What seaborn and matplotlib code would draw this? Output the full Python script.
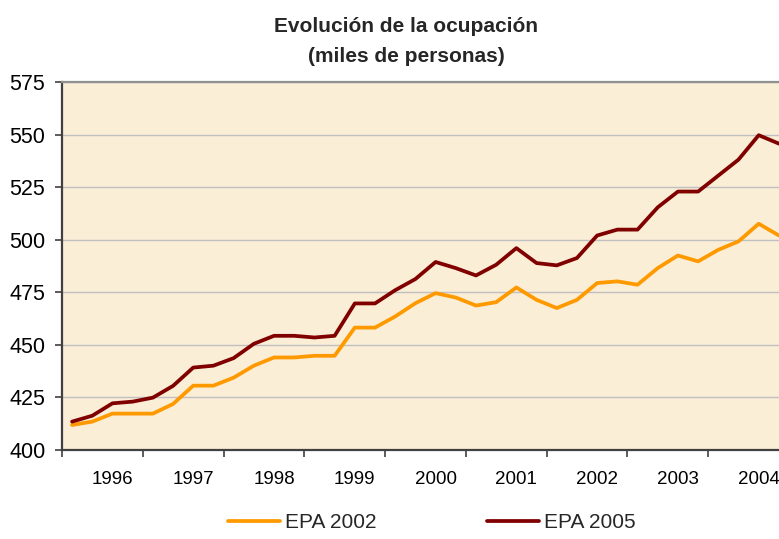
import matplotlib
matplotlib.use("Agg")
import matplotlib.pyplot as plt
import seaborn as sns
import pandas as pd
import numpy as np

# Quarterly employment (thousands of people), 1996 Q1 – 2004 Q4
years = ["1996", "1997", "1998", "1999", "2000", "2001", "2002", "2003", "2004"]
quarters = [f"{y} T{q}" for y in years for q in range(1, 5)]

epa_2002 = [411.9, 413.5, 417.3, 417.3, 417.3, 421.9, 430.6, 430.6,
            434.4, 440.1, 444.0, 444.0, 444.8, 444.8, 458.2, 458.2,
            463.5, 469.8, 474.6, 472.5, 468.7, 470.3, 477.3, 471.4,
            467.5, 471.4, 479.4, 480.2, 478.6, 486.5, 492.5, 489.7,
            495.2, 499.2, 507.6, 502.0]
epa_2005 = [413.5, 416.3, 422.2, 423.0, 424.9, 430.5, 439.2, 440.1,
            443.7, 450.5, 454.3, 454.3, 453.5, 454.3, 469.7, 469.7,
            476.0, 481.3, 489.4, 486.5, 483.0, 488.1, 496.0, 488.9,
            487.8, 491.3, 502.0, 504.8, 504.8, 515.4, 522.9, 522.9,
            530.5, 538.1, 549.7, 545.7]
series_names = ["EPA 2002", "EPA 2005"]
series_colors = ["#FF9900", "#800000"]

n = len(quarters)
df = pd.DataFrame({
    "idx": list(range(n)) * 2,
    "valor": epa_2002 + epa_2005,
    "serie": [series_names[0]] * n + [series_names[1]] * n,
})

sns.set_theme(style="white")
plt.rcParams["font.family"] = ["Liberation Sans", "DejaVu Sans"]

fig = plt.figure(figsize=(7.79, 5.39), dpi=100)
fig.patch.set_facecolor("white")
ax = fig.add_axes([62 / 779, 1 - 450 / 539, 727 / 779, 368 / 539])
ax.set_facecolor("#FBEED6")

sns.lineplot(data=df, x="idx", y="valor", hue="serie",
             palette=dict(zip(series_names, series_colors)),
             linewidth=2.7, ax=ax, legend=True)

ax.set_xlim(-0.5, n - 0.5)
ax.set_ylim(400, 575)
ax.set_yticks(np.arange(400, 576, 25))
ax.yaxis.grid(True, color="#C0C0C0", linewidth=1.0)
ax.set_axisbelow(True)

# tick marks between years, year labels on the third quarter
ax.set_xticks(np.arange(-0.5, n, 4))
ax.set_xticklabels([])
ax.set_xticks(np.arange(2, n, 4), minor=True)
ax.set_xticklabels(years, minor=True)
ax.tick_params(axis="x", which="major", length=5, width=1.2, color="#404040",
               direction="out", bottom=True)
ax.tick_params(axis="x", which="minor", length=0, pad=15, labelsize=13.5,
               colors="black")
ax.tick_params(axis="y", length=5, width=1.2, color="#404040", direction="out",
               left=True, pad=7, labelsize=15.5, labelcolor="black")

ax.set_xlabel("")
ax.set_ylabel("")

for side in ["left", "bottom"]:
    ax.spines[side].set_color("#404040")
    ax.spines[side].set_linewidth(1.6)
ax.spines["top"].set_color("#909090")
ax.spines["top"].set_linewidth(1.6)
ax.spines["right"].set_visible(False)

fig.text(406 / 779, 1 - 27 / 539, "Evolución de la ocupación",
         ha="center", va="center", fontsize=15, fontweight="bold")
fig.text(406 / 779, 1 - 57 / 539, "(miles de personas)",
         ha="center", va="center", fontsize=15, fontweight="bold")

handles, labels = ax.get_legend_handles_labels()
ax.legend_.remove()
fig.legend(handles, labels, loc="center", bbox_to_anchor=(432 / 779, 1 - 523 / 539),
           ncol=2, frameon=False, fontsize=15, handlelength=2.5,
           handletextpad=0.25, columnspacing=5.3)

fig.savefig("out.png", dpi=100, facecolor="white")
